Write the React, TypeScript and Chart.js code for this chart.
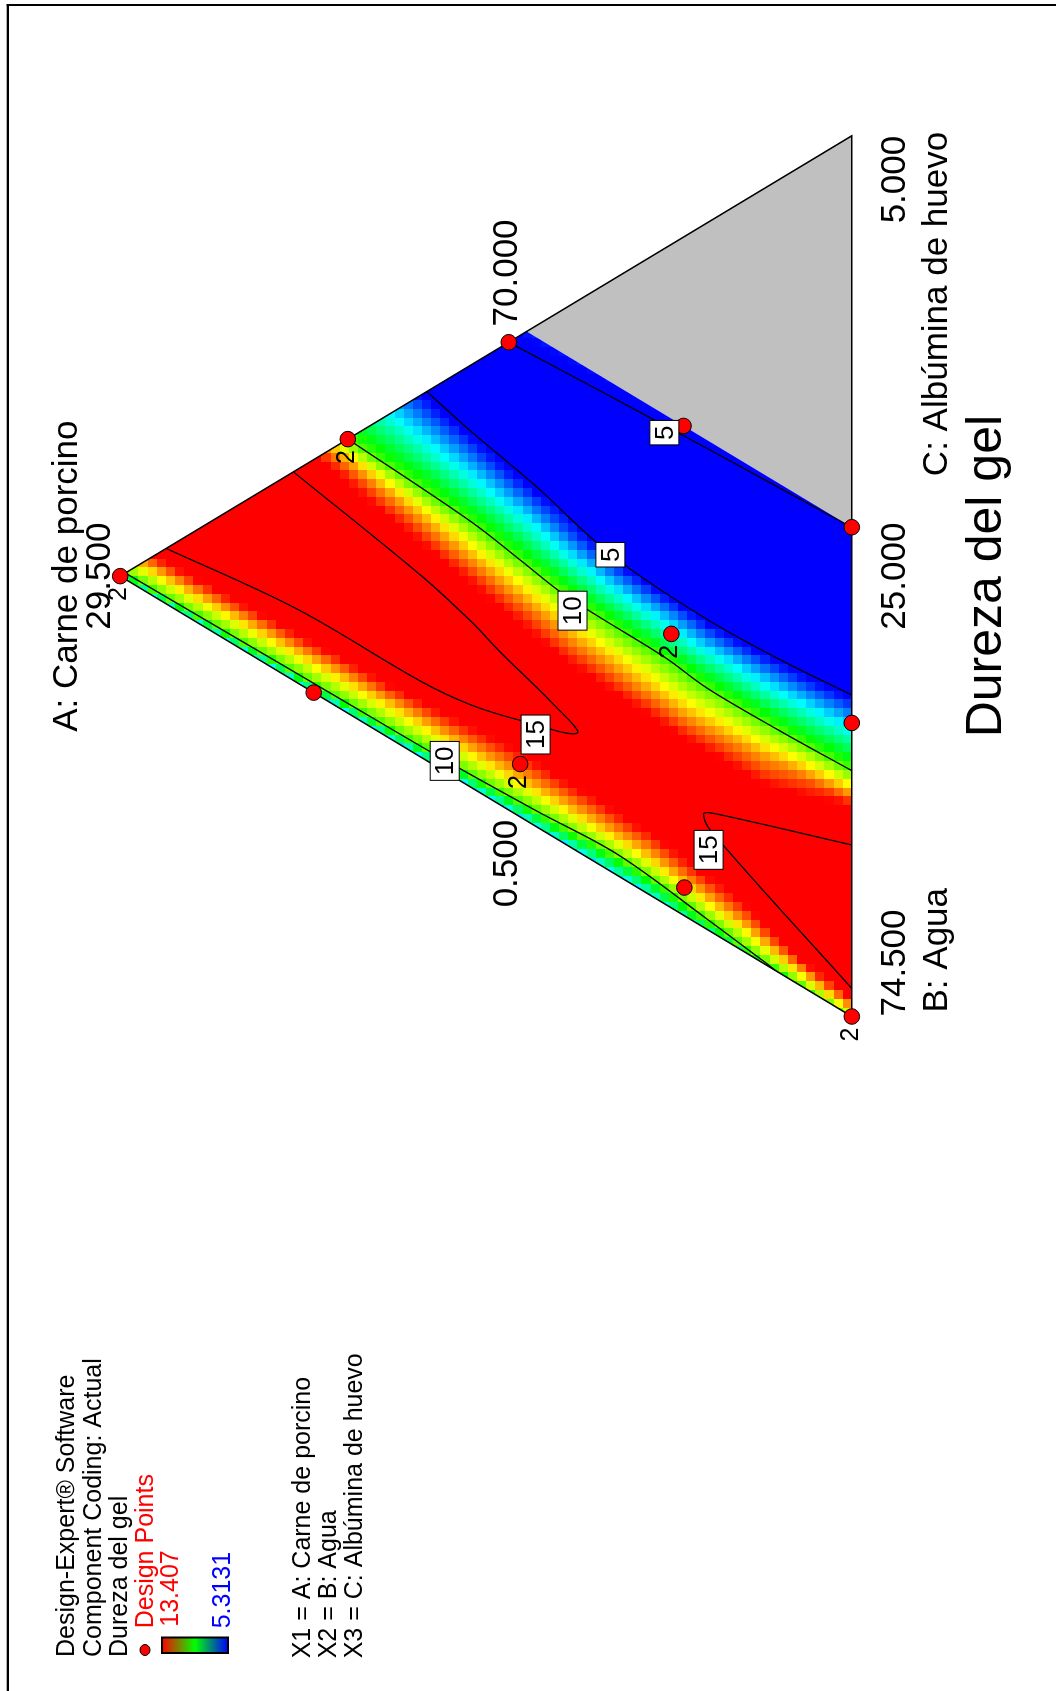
import React, { useEffect, useRef } from "react";
import { Chart, registerables } from "chart.js";
Chart.register(...registerables);

// ---- Mixture design ranges (actual %, A + B + C = 100) ----
const A_MIN = 25; // Carne de porcino
const A_MAX = 29.5;
const B_MIN = 70; // Agua
const B_MAX = 74.5;
const C_MIN = 0.5; // Albúmina de huevo
const C_MAX = 5;
const C_LIMIT = 3.0; // feasible region ends at C = 3 (grey beyond)
const SPAN = 4.5;

// colour scale of the response (Dureza del gel)
const COLOR_LOW = 5.3131;
const COLOR_HIGH = 13.407;

// ---- Design points (actual %) and replicate counts ----
const DP_A = [29.5, 28.1, 27.11, 26.035, 25.0, 26.11, 25.0, 27.04, 28.31, 26.03, 25.0];
const DP_B = [70.0, 70.0, 70.0, 70.965, 72.0, 71.99, 73.0, 72.19, 71.19, 73.326, 74.5];
const DP_C = [0.5, 1.9, 2.89, 3.0, 3.0, 1.9, 2.0, 0.77, 0.5, 0.644, 0.5];
const DP_REPS = [2, 2, 1, 1, 1, 2, 1, 2, 1, 1, 2];

// ---- Contour lines: [A %, C %] pairs ----
const CONTOUR_5_LIMIT_A = [27.111, 26.575, 25.9, 25.0];
const CONTOUR_5_LIMIT_C = [2.8895, 2.921, 2.957, 2.999];
const CONTOUR_5_BLUE_A = [27.6145, 27.34, 26.9575, 26.485, 25.9, 25.45, 25.0];
const CONTOUR_5_BLUE_C = [2.3855, 2.318, 2.2415, 2.12, 2.084, 2.102, 2.1425];
const CONTOUR_10_HIGH_A = [28.1, 27.34, 27.025, 26.8, 26.575, 26.152, 25.891, 25.45, 25.0];
const CONTOUR_10_HIGH_C = [1.9, 1.857, 1.81, 1.774, 1.765, 1.76, 1.733, 1.738, 1.756];
const CONTOUR_15_TOP_A = [29.2165, 28.411, 27.646, 27.34, 27.0385, 26.6893, 26.8387, 27.1609, 27.3427, 27.6451, 28.4313];
const CONTOUR_15_TOP_C = [0.7835, 0.8758, 0.8875, 0.9212, 0.9937, 1.103, 1.1786, 1.2803, 1.3478, 1.4275, 1.5652];
const CONTOUR_15_BASE_A = [25.0, 25.8708, 25.9108, 25.842, 25.0];
const CONTOUR_15_BASE_C = [0.6431, 1.0171, 1.0805, 1.1156, 1.3766];
const CONTOUR_10_LOW_A = [29.4685, 28.825, 28.15, 27.5065, 26.935, 26.4355, 25.9, 25.5085, 25.4725];
const CONTOUR_10_LOW_C = [0.5315, 0.5405, 0.5495, 0.5585, 0.581, 0.608, 0.554, 0.50675, 0.5];

// contour label texts and where they sit ([A %, C %])
const LABEL_TEXT = ["5", "5", "10", "15", "10", "15"];
const LABEL_A = [26.153, 26.485, 26.718, 26.945, 27.504, 25.881];
const LABEL_C = [2.9066, 2.1167, 1.7145, 0.9683, 0.554, 0.911];

// ---- Response read across the plot: rows along s = a/(1-c), profiles [c, value] (L-pseudo c) ----
const ROW_S = [0, 0.15, 0.3, 0.5, 0.7, 0.85, 1];
const PROFILE_S000 = [[-0.02, 8.5], [0, 10.8], [0.032, 15], [0.07, 16.5], [0.11, 16.9], [0.15, 16.4], [0.195, 15], [0.238, 13.4], [0.279, 10], [0.36, 5.3], [0.365, 5], [0.46, 4.2], [0.555, 5], [0.58, 5.6]];
const PROFILE_S015 = [[-0.02, 6.5], [0, 9.0], [0.0055, 10], [0.035, 12.3], [0.06, 13.8], [0.0904, 15], [0.123, 15.4], [0.1555, 15], [0.2, 13.6], [0.235, 12.2], [0.275, 10], [0.356, 5], [0.455, 4.2], [0.553, 5], [0.58, 5.6]];
const PROFILE_S030 = [[-0.02, 5.0], [0, 7.4], [0.021, 10], [0.045, 11.9], [0.07, 13.4], [0.13, 14.6], [0.19, 14.0], [0.232, 12.0], [0.275, 10], [0.352, 5], [0.45, 4.2], [0.55, 5], [0.58, 5.6]];
const PROFILE_S050 = [[-0.02, 5.0], [0, 7.5], [0.015, 10], [0.045, 12.0], [0.072, 13.4], [0.112, 15], [0.134, 15.3], [0.155, 15], [0.21, 13.4], [0.245, 11.9], [0.2815, 10], [0.3594, 5], [0.45, 4.2], [0.545, 5], [0.58, 5.8]];
const PROFILE_S070 = [[-0.02, 5.2], [0, 7.6], [0.011, 10], [0.04, 12.0], [0.06, 13.5], [0.085, 15], [0.14, 16.2], [0.198, 15], [0.235, 13.4], [0.265, 11.9], [0.297, 10], [0.385, 5], [0.465, 4.2], [0.539, 5], [0.58, 5.8]];
const PROFILE_S085 = [[-0.02, 5.4], [0, 7.8], [0.009, 10], [0.035, 12.0], [0.055, 13.6], [0.081, 15], [0.15, 16.6], [0.219, 15], [0.252, 13.4], [0.278, 12], [0.3057, 10], [0.402, 5], [0.475, 4.2], [0.536, 5], [0.58, 5.9]];
const PROFILE_S100 = [[-0.02, 5.6], [0, 8.0], [0.007, 10], [0.03, 12.0], [0.048, 13.6], [0.063, 15], [0.15, 17], [0.237, 15], [0.27, 13.4], [0.29, 12], [0.311, 10], [0.419, 5], [0.48, 4.2], [0.531, 5], [0.58, 6.0]];
const PROFILES = [PROFILE_S000, PROFILE_S015, PROFILE_S030, PROFILE_S050, PROFILE_S070, PROFILE_S085, PROFILE_S100];

// ---- layout (landscape drawing, rotated onto the page) ----
const W = 1691;
const H = 1056;
const X_MIN = -0.75584;
const X_MAX = 1.14416;
const Y_MIN = -0.26707;
const Y_MAX = 1.15228;
const CELL_U = 0.01;
const CELL_V = 0.0125;
const FONT = '"Liberation Sans", Arial, Helvetica, sans-serif';

const pseudo = (A: number, C: number) => ({ a: (A - A_MIN) / SPAN, c: (C - C_MIN) / SPAN });
const toXY = (A: number, C: number) => {
  const { a, c } = pseudo(A, C);
  return { x: c + a / 2, y: a };
};

function profileAt(p: number[][], c: number) {
  if (c <= p[0][0]) return p[0][1];
  for (let i = 1; i < p.length; i++) {
    if (c <= p[i][0]) {
      const t = (c - p[i - 1][0]) / (p[i][0] - p[i - 1][0]);
      return p[i - 1][1] + t * (p[i][1] - p[i - 1][1]);
    }
  }
  return p[p.length - 1][1];
}

function valueAt(a: number, c: number) {
  const s = Math.max(0, Math.min(1, a / Math.max(1e-6, 1 - c)));
  let i = 0;
  while (i < ROW_S.length - 2 && s > ROW_S[i + 1]) i++;
  const t = (s - ROW_S[i]) / (ROW_S[i + 1] - ROW_S[i]);
  return (1 - t) * profileAt(PROFILES[i], c) + t * profileAt(PROFILES[i + 1], c);
}

function colorFor(v: number) {
  const t = Math.max(0, Math.min(1, (v - COLOR_LOW) / (COLOR_HIGH - COLOR_LOW)));
  const h = 240 * (1 - t);
  const f = (n: number) => {
    const k = (n + h / 60) % 6;
    return Math.round(255 * (1 - Math.max(0, Math.min(k, 4 - k, 1))));
  };
  return `rgb(${f(5)},${f(3)},${f(1)})`;
}

const REGION = [
  [A_MAX, C_MIN],
  [A_MAX - (C_LIMIT - C_MIN), C_LIMIT],
  [A_MIN, C_LIMIT],
  [A_MIN, C_MIN],
];
const GREY = [
  [A_MAX - (C_LIMIT - C_MIN), C_LIMIT],
  [A_MIN, C_MAX],
  [A_MIN, C_LIMIT],
];

const heatPlugin = {
  id: "heat",
  beforeDraw(chart: any) {
    const ctx = chart.ctx;
    ctx.save();
    ctx.fillStyle = "#fff";
    ctx.fillRect(0, 0, W, H);
    ctx.fillStyle = "#000";
    ctx.fillRect(0, 6.7, 1687, 2.3);
    ctx.fillRect(1685, 6.7, 2, H);
    ctx.restore();
  },
  beforeDatasetsDraw(chart: any) {
    const { ctx, scales } = chart;
    const xs = scales.x;
    const ys = scales.y;
    const px = (A: number, C: number) => {
      const p = toXY(A, C);
      return [xs.getPixelForValue(p.x), ys.getPixelForValue(p.y)];
    };
    ctx.save();
    ctx.beginPath();
    GREY.forEach(([A, C], i) => {
      const [X, Y] = px(A, C);
      if (i === 0) ctx.moveTo(X, Y);
      else ctx.lineTo(X, Y);
    });
    ctx.closePath();
    ctx.fillStyle = "#c0c0c0";
    ctx.fill();
    ctx.beginPath();
    REGION.forEach(([A, C], i) => {
      const [X, Y] = px(A, C);
      if (i === 0) ctx.moveTo(X, Y);
      else ctx.lineTo(X, Y);
    });
    ctx.closePath();
    ctx.clip();
    const nu = Math.round(1 / CELL_U);
    const nv = Math.round(1 / CELL_V);
    for (let i = 0; i < nu; i++) {
      for (let j = 0; j < nv; j++) {
        const u0 = i * CELL_U;
        const v0 = j * CELL_V;
        const uc = u0 + CELL_U / 2;
        const vc = v0 + CELL_V / 2;
        const a = vc;
        const c = uc - vc / 2;
        if (c < -0.03 || c > 0.6 || a > 1.03) continue;
        const X0 = Math.round(xs.getPixelForValue(u0));
        const X1 = Math.round(xs.getPixelForValue(u0 + CELL_U));
        const Y0 = Math.round(ys.getPixelForValue(v0 + CELL_V));
        const Y1 = Math.round(ys.getPixelForValue(v0));
        ctx.fillStyle = colorFor(valueAt(a, c));
        ctx.fillRect(X0, Y0, X1 - X0, Y1 - Y0);
      }
    }
    ctx.restore();
  },
  afterDraw(chart: any) {
    const { ctx, scales } = chart;
    const xs = scales.x;
    const ys = scales.y;
    const px = (A: number, C: number) => {
      const p = toXY(A, C);
      return [xs.getPixelForValue(p.x), ys.getPixelForValue(p.y)];
    };
    const text = (s: string, x: number, y: number, size: number, align = "left", color = "#000", base = "alphabetic") => {
      ctx.font = `${size}px ${FONT}`;
      ctx.fillStyle = color;
      ctx.textAlign = align;
      ctx.textBaseline = base;
      ctx.fillText(s, x, y);
    };
    ctx.save();
    // contour labels
    LABEL_TEXT.forEach((s, i) => {
      const [X, Y] = px(LABEL_A[i], LABEL_C[i]);
      ctx.font = `26px ${FONT}`;
      const w = ctx.measureText(s).width + 10;
      const h = 29;
      ctx.fillStyle = "#fff";
      ctx.fillRect(X - w / 2, Y - h / 2, w, h);
      ctx.strokeStyle = "#000";
      ctx.lineWidth = 1;
      ctx.strokeRect(X - w / 2, Y - h / 2, w, h);
      text(s, X, Y + 1, 26, "center", "#000", "middle");
    });
    // replicate counts
    DP_REPS.forEach((n, i) => {
      if (n < 2) return;
      const [X, Y] = px(DP_A[i], DP_C[i]);
      text(String(n), X - 18, Y - 1, 25, "center", "#000", "middle");
    });
    // axis labels
    const [aX, aY] = px(A_MAX, C_MIN);
    const [bX, bY] = px(A_MIN, C_MIN);
    const [cX, cY] = px(A_MIN, C_MAX);
    const [lX, lY] = px(A_MAX - (C_LIMIT - C_MIN), C_LIMIT);
    const [eX] = px(A_MAX - (C_LIMIT - C_MIN), C_MIN);
    text("A: Carne de porcino", aX, aY - 43, 35, "center");
    text(A_MAX.toFixed(3), aX, aY - 10, 35, "center");
    text(B_MIN.toFixed(3), lX + 5, lY - 10, 35, "left");
    text(C_MIN.toFixed(3), eX + 1, lY - 10, 35, "right");
    text(C_MAX.toFixed(3), cX, cY + 53, 35, "right");
    text(A_MIN.toFixed(3), (bX + cX) / 2, bY + 53, 35, "center");
    text(B_MAX.toFixed(3), bX, bY + 53, 35, "left");
    text("C: Albúmina de huevo", cX + 4, cY + 95, 35, "right");
    text("B: Agua", bX + 4, bY + 95, 35, "left");
    text("Dureza del gel", (bX + cX) / 2, bY + 149, 50, "center");
    // legend
    text("Design-Expert® Software", 34, 74, 25);
    text("Component Coding: Actual", 34, 100.7, 25);
    text("Dureza del gel", 34, 127.3, 25);
    ctx.beginPath();
    ctx.ellipse(41, 145, 5.5, 5, 0, 0, Math.PI * 2);
    ctx.fillStyle = "#ff0000";
    ctx.fill();
    ctx.lineWidth = 1;
    ctx.strokeStyle = "#000";
    ctx.stroke();
    text("Design Points", 62.7, 152.7, 25, "left", "#ff0000");
    text(COLOR_HIGH.toFixed(3), 64.3, 178.3, 25, "left", "#ff0000");
    const g = ctx.createLinearGradient(0, 162, 0, 228);
    g.addColorStop(0, "#ff0000");
    g.addColorStop(0.5, "#00ff00");
    g.addColorStop(1, "#0000ff");
    ctx.fillStyle = g;
    ctx.fillRect(38, 162, 15.5, 66);
    ctx.lineWidth = 2;
    ctx.strokeStyle = "#000";
    ctx.strokeRect(38, 162, 15.5, 66);
    text(COLOR_LOW.toFixed(4), 62.7, 230, 25, "left", "#0000ff");
    text("X1 = A: Carne de porcino", 32.7, 310, 25);
    text("X2 = B: Agua", 32.7, 336, 25);
    text("X3 = C: Albúmina de huevo", 32.7, 361.7, 25);
    ctx.restore();
  },
};

function line(A: number[], C: number[]) {
  return {
    data: A.map((v, i) => toXY(v, C[i])),
    showLine: true,
    borderColor: "#000",
    borderWidth: 1.3,
    pointRadius: 0,
    tension: 0.35,
    fill: false,
    order: 2,
  };
}

export default function App() {
  const ref = useRef<HTMLCanvasElement>(null);
  useEffect(() => {
    document.body.style.margin = "0";
    const canvas = ref.current!;
    const outline = {
      data: [toXY(A_MAX, C_MIN), toXY(A_MIN, C_MIN), toXY(A_MIN, C_MAX), toXY(A_MAX, C_MIN)],
      showLine: true,
      borderColor: "#000",
      borderWidth: 1.5,
      pointRadius: 0,
      tension: 0,
      fill: false,
      order: 1,
    };
    const points = {
      data: DP_A.map((A, i) => toXY(A, DP_C[i])),
      showLine: false,
      pointRadius: 7.8,
      pointBackgroundColor: "#ff0000",
      pointBorderColor: "#000",
      pointBorderWidth: 1,
      order: 0,
    };
    const chart = new Chart(canvas, {
      type: "scatter",
      data: {
        datasets: [
          points,
          outline,
          line(CONTOUR_5_LIMIT_A, CONTOUR_5_LIMIT_C),
          line(CONTOUR_5_BLUE_A, CONTOUR_5_BLUE_C),
          line(CONTOUR_10_HIGH_A, CONTOUR_10_HIGH_C),
          line(CONTOUR_15_TOP_A, CONTOUR_15_TOP_C),
          line(CONTOUR_15_BASE_A, CONTOUR_15_BASE_C),
          line(CONTOUR_10_LOW_A, CONTOUR_10_LOW_C),
        ] as any,
      },
      options: {
        animation: false,
        responsive: false,
        devicePixelRatio: 1,
        events: [],
        layout: { padding: 0 },
        plugins: { legend: { display: false }, tooltip: { enabled: false } },
        scales: {
          x: { type: "linear", display: false, min: X_MIN, max: X_MAX },
          y: { type: "linear", display: false, min: Y_MIN, max: Y_MAX },
        },
      } as any,
      plugins: [heatPlugin as any],
    });
    return () => chart.destroy();
  }, []);
  return (
    <div style={{ position: "absolute", left: 0, top: 0, width: 1056, height: 1691, overflow: "hidden", background: "#fff" }}>
      <canvas
        ref={ref}
        width={W}
        height={H}
        style={{
          position: "absolute",
          left: 0,
          top: 0,
          width: W,
          height: H,
          transformOrigin: "0 0",
          transform: `translate(0px, ${W}px) rotate(-90deg)`,
        }}
      />
    </div>
  );
}
